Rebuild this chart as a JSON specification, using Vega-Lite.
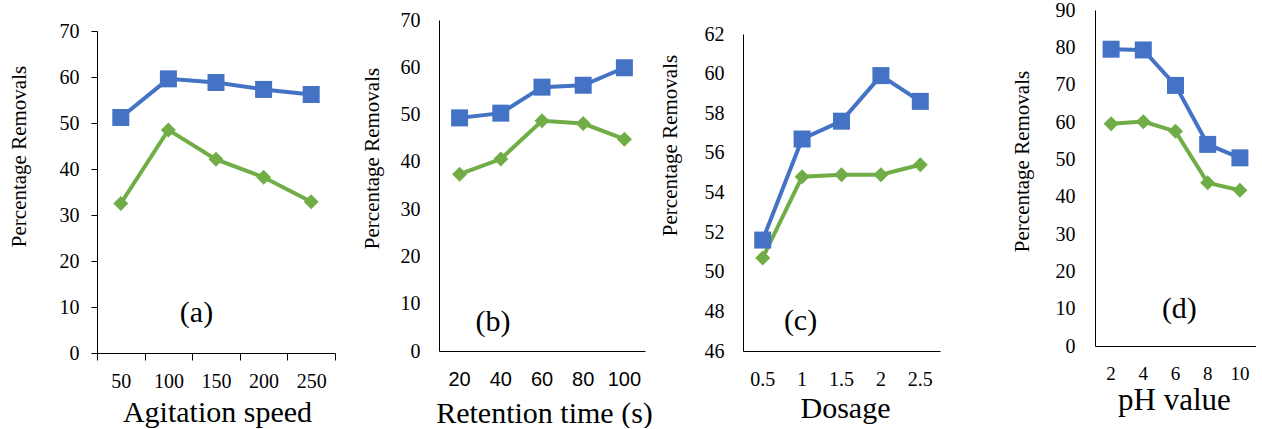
{
  "$schema": "https://vega.github.io/schema/vega-lite/v6.json",
  "padding": {"left": 7, "top": 0, "right": 0, "bottom": 0},
  "bounds": "flush",
  "spacing": 0,
  "config": {
    "view": {"stroke": null},
    "axis": {"grid": false, "labelFont": "Liberation Serif", "titleFont": "Liberation Serif", "labelColor": "#000", "titleColor": "#000", "domainColor": "#000", "tickColor": "#000", "titleFontWeight": "normal", "labelAngle": 0, "labelOverlap": false, "labelBound": false}
  },
  "datasets": {
    "a": [
      {"x": 50, "s": "Series 1", "v": 51.2}, {"x": 100, "s": "Series 1", "v": 59.6}, {"x": 150, "s": "Series 1", "v": 58.8}, {"x": 200, "s": "Series 1", "v": 57.3}, {"x": 250, "s": "Series 1", "v": 56.2},
      {"x": 50, "s": "Series 2", "v": 32.5}, {"x": 100, "s": "Series 2", "v": 48.5}, {"x": 150, "s": "Series 2", "v": 42.1}, {"x": 200, "s": "Series 2", "v": 38.2}, {"x": 250, "s": "Series 2", "v": 32.9}
    ],
    "b": [
      {"x": 20, "s": "Series 1", "v": 49.3}, {"x": 40, "s": "Series 1", "v": 50.3}, {"x": 60, "s": "Series 1", "v": 55.8}, {"x": 80, "s": "Series 1", "v": 56.2}, {"x": 100, "s": "Series 1", "v": 59.9},
      {"x": 20, "s": "Series 2", "v": 37.4}, {"x": 40, "s": "Series 2", "v": 40.6}, {"x": 60, "s": "Series 2", "v": 48.7}, {"x": 80, "s": "Series 2", "v": 48.1}, {"x": 100, "s": "Series 2", "v": 44.8}
    ],
    "c": [
      {"x": 0.5, "s": "Series 1", "v": 51.6}, {"x": 1, "s": "Series 1", "v": 56.7}, {"x": 1.5, "s": "Series 1", "v": 57.6}, {"x": 2, "s": "Series 1", "v": 59.9}, {"x": 2.5, "s": "Series 1", "v": 58.6},
      {"x": 0.5, "s": "Series 2", "v": 50.7}, {"x": 1, "s": "Series 2", "v": 54.8}, {"x": 1.5, "s": "Series 2", "v": 54.9}, {"x": 2, "s": "Series 2", "v": 54.9}, {"x": 2.5, "s": "Series 2", "v": 55.4}
    ],
    "d": [
      {"x": 2, "s": "Series 1", "v": 79.5}, {"x": 4, "s": "Series 1", "v": 79.3}, {"x": 6, "s": "Series 1", "v": 69.8}, {"x": 8, "s": "Series 1", "v": 54.0}, {"x": 10, "s": "Series 1", "v": 50.4},
      {"x": 2, "s": "Series 2", "v": 59.5}, {"x": 4, "s": "Series 2", "v": 60.1}, {"x": 6, "s": "Series 2", "v": 57.5}, {"x": 8, "s": "Series 2", "v": 43.7}, {"x": 10, "s": "Series 2", "v": 41.7}
    ],
    "labels": [
      {"panel": "a", "x": 150, "v": 8.8, "label": "(a)"},
      {"panel": "b", "x": 40, "v": 6.1, "label": "(b)"},
      {"panel": "c", "x": 1, "v": 47.5, "label": "(c)"},
      {"panel": "d", "x": 6, "v": 9.9, "label": "(d)"}
    ]
  },
  "hconcat": [
    {
      "width": 342, "height": 343,
      "layer": [
        {
          "data": {"name": "a"},
          "mark": {"type": "line", "strokeWidth": 4},
          "encoding": {
            "x": {"field": "x", "type": "ordinal", "scale": {"type": "band", "domain": [50, 100, 150, 200, 250], "range": [0, 238], "paddingInner": 0, "paddingOuter": 0},
              "axis": {"title": "Agitation speed", "titleFontSize": 30, "labelFontSize": 20, "tickBand": "extent", "tickSize": 7, "labelPadding": 27, "labelBaseline": "alphabetic", "titleBaseline": "alphabetic", "titleX": 120, "titleY": 68, "titleAlign": "center", "labelOverlap": false}},
            "y": {"field": "v", "type": "quantitative", "scale": {"domain": [0, 70], "range": [343, 21], "nice": false, "zero": false},
              "axis": {"title": "Percentage Removals", "values": [0, 10, 20, 30, 40, 50, 60, 70], "tickCount": 20, "tickSize": 6, "labelPadding": 12, "labelFontSize": 20, "titleFontSize": 21, "titleX": -68, "titleY": 146, "titleAlign": "center", "titleBaseline": "bottom", "labelOverlap": false}},
            "color": {"field": "s", "type": "nominal", "scale": {"domain": ["Series 1", "Series 2"], "range": ["#4472C4", "#70AD47"]}, "legend": null}
          }
        },
        {
          "data": {"name": "a"},
          "mark": {"type": "point", "filled": true, "opacity": 1},
          "encoding": {
            "x": {"field": "x", "type": "ordinal"},
            "y": {"field": "v", "type": "quantitative"},
            "color": {"field": "s", "type": "nominal", "legend": null},
            "shape": {"field": "s", "type": "nominal", "scale": {"domain": ["Series 1", "Series 2"], "range": ["square", "diamond"]}, "legend": null},
            "size": {"field": "s", "type": "ordinal", "scale": {"domain": ["Series 1", "Series 2"], "range": [289, 225]}, "legend": null}
          }
        },
        {
          "data": {"name": "labels"},
          "transform": [{"filter": "datum.panel === 'a'"}],
          "mark": {"type": "text", "font": "Liberation Serif", "fontSize": 30, "baseline": "middle", "align": "center", "color": "#000"},
          "encoding": {
            "x": {"field": "x", "type": "ordinal", "bandPosition": 0.09},
            "y": {"field": "v", "type": "quantitative"},
            "text": {"field": "label"}
          }
        }
      ]
    },
    {
      "width": 304, "height": 341,
      "layer": [
        {
          "data": {"name": "b"},
          "mark": {"type": "line", "strokeWidth": 4},
          "encoding": {
            "x": {"field": "x", "type": "ordinal", "scale": {"type": "band", "domain": [20, 40, 60, 80, 100], "range": [0, 206], "paddingInner": 0, "paddingOuter": 0},
              "axis": {"title": "Retention time (s)", "titleFontSize": 30, "labelFont": "Liberation Sans", "labelFontSize": 20, "ticks": false, "tickSize": 0, "labelPadding": 34, "labelBaseline": "alphabetic", "titleBaseline": "alphabetic", "titleX": 105, "titleY": 71, "titleAlign": "center", "labelOverlap": false}},
            "y": {"field": "v", "type": "quantitative", "scale": {"domain": [0, 70], "range": [341, 10], "nice": false, "zero": false},
              "axis": {"title": "Percentage Removals", "values": [0, 10, 20, 30, 40, 50, 60, 70], "tickCount": 20, "ticks": false, "tickSize": 0, "labelPadding": 19, "labelFontSize": 20, "titleFontSize": 21, "titleX": -57, "titleY": 148, "titleAlign": "center", "titleBaseline": "bottom", "labelOverlap": false}},
            "color": {"field": "s", "type": "nominal", "scale": {"domain": ["Series 1", "Series 2"], "range": ["#4472C4", "#70AD47"]}, "legend": null}
          }
        },
        {
          "data": {"name": "b"},
          "mark": {"type": "point", "filled": true, "opacity": 1},
          "encoding": {
            "x": {"field": "x", "type": "ordinal"},
            "y": {"field": "v", "type": "quantitative"},
            "color": {"field": "s", "type": "nominal", "legend": null},
            "shape": {"field": "s", "type": "nominal", "scale": {"domain": ["Series 1", "Series 2"], "range": ["square", "diamond"]}, "legend": null},
            "size": {"field": "s", "type": "ordinal", "scale": {"domain": ["Series 1", "Series 2"], "range": [289, 225]}, "legend": null}
          }
        },
        {
          "data": {"name": "labels"},
          "transform": [{"filter": "datum.panel === 'b'"}],
          "mark": {"type": "text", "font": "Liberation Serif", "fontSize": 30, "baseline": "middle", "align": "center", "color": "#000"},
          "encoding": {
            "x": {"field": "x", "type": "ordinal", "bandPosition": 0.31},
            "y": {"field": "v", "type": "quantitative"},
            "text": {"field": "label"}
          }
        }
      ]
    },
    {
      "width": 352, "height": 341,
      "layer": [
        {
          "data": {"name": "c"},
          "mark": {"type": "line", "strokeWidth": 4},
          "encoding": {
            "x": {"field": "x", "type": "ordinal", "scale": {"type": "band", "domain": [0.5, 1, 1.5, 2, 2.5], "range": [0, 197], "paddingInner": 0, "paddingOuter": 0},
              "axis": {"title": "Dosage", "titleFontSize": 30, "labelFontSize": 20, "ticks": false, "tickSize": 0, "labelPadding": 34, "labelBaseline": "alphabetic", "titleBaseline": "alphabetic", "titleX": 102, "titleY": 66, "titleAlign": "center", "labelOverlap": false}},
            "y": {"field": "v", "type": "quantitative", "scale": {"domain": [46, 62], "range": [341, 24], "nice": false, "zero": false},
              "axis": {"title": "Percentage Removals", "values": [46, 48, 50, 52, 54, 56, 58, 60, 62], "tickCount": 20, "ticks": false, "tickSize": 0, "labelPadding": 19, "labelFontSize": 20, "titleFontSize": 21, "titleX": -63, "titleY": 135, "titleAlign": "center", "titleBaseline": "bottom", "labelOverlap": false}},
            "color": {"field": "s", "type": "nominal", "scale": {"domain": ["Series 1", "Series 2"], "range": ["#4472C4", "#70AD47"]}, "legend": null}
          }
        },
        {
          "data": {"name": "c"},
          "mark": {"type": "point", "filled": true, "opacity": 1},
          "encoding": {
            "x": {"field": "x", "type": "ordinal"},
            "y": {"field": "v", "type": "quantitative"},
            "color": {"field": "s", "type": "nominal", "legend": null},
            "shape": {"field": "s", "type": "nominal", "scale": {"domain": ["Series 1", "Series 2"], "range": ["square", "diamond"]}, "legend": null},
            "size": {"field": "s", "type": "ordinal", "scale": {"domain": ["Series 1", "Series 2"], "range": [289, 225]}, "legend": null}
          }
        },
        {
          "data": {"name": "labels"},
          "transform": [{"filter": "datum.panel === 'c'"}],
          "mark": {"type": "text", "font": "Liberation Serif", "fontSize": 30, "baseline": "middle", "align": "center", "color": "#000"},
          "encoding": {
            "x": {"field": "x", "type": "ordinal", "bandPosition": 0.46},
            "y": {"field": "v", "type": "quantitative"},
            "text": {"field": "label"}
          }
        }
      ]
    },
    {
      "width": 161, "height": 336,
      "layer": [
        {
          "data": {"name": "d"},
          "mark": {"type": "line", "strokeWidth": 4},
          "encoding": {
            "x": {"field": "x", "type": "ordinal", "scale": {"type": "band", "domain": [2, 4, 6, 8, 10], "range": [0, 161], "paddingInner": 0, "paddingOuter": 0},
              "axis": {"title": "pH value", "titleFontSize": 31, "labelFontSize": 19, "ticks": false, "tickSize": 0, "labelPadding": 33, "labelBaseline": "alphabetic", "titleBaseline": "alphabetic", "titleX": 79, "titleY": 63, "titleAlign": "center", "labelOverlap": false}},
            "y": {"field": "v", "type": "quantitative", "scale": {"domain": [0, 90], "range": [336, 0], "nice": false, "zero": false},
              "axis": {"title": "Percentage Removals", "values": [0, 10, 20, 30, 40, 50, 60, 70, 80, 90], "tickCount": 20, "ticks": false, "tickSize": 0, "labelPadding": 20, "labelFontSize": 20, "titleFontSize": 21, "titleX": -63, "titleY": 151, "titleAlign": "center", "titleBaseline": "bottom", "labelOverlap": false, "labelBound": false}},
            "color": {"field": "s", "type": "nominal", "scale": {"domain": ["Series 1", "Series 2"], "range": ["#4472C4", "#70AD47"]}, "legend": null}
          }
        },
        {
          "data": {"name": "d"},
          "mark": {"type": "point", "filled": true, "opacity": 1},
          "encoding": {
            "x": {"field": "x", "type": "ordinal"},
            "y": {"field": "v", "type": "quantitative"},
            "color": {"field": "s", "type": "nominal", "legend": null},
            "shape": {"field": "s", "type": "nominal", "scale": {"domain": ["Series 1", "Series 2"], "range": ["square", "diamond"]}, "legend": null},
            "size": {"field": "s", "type": "ordinal", "scale": {"domain": ["Series 1", "Series 2"], "range": [289, 225]}, "legend": null}
          }
        },
        {
          "data": {"name": "labels"},
          "transform": [{"filter": "datum.panel === 'd'"}],
          "mark": {"type": "text", "font": "Liberation Serif", "fontSize": 30, "baseline": "middle", "align": "center", "color": "#000"},
          "encoding": {
            "x": {"field": "x", "type": "ordinal", "bandPosition": 0.62},
            "y": {"field": "v", "type": "quantitative"},
            "text": {"field": "label"}
          }
        }
      ]
    }
  ]
}
